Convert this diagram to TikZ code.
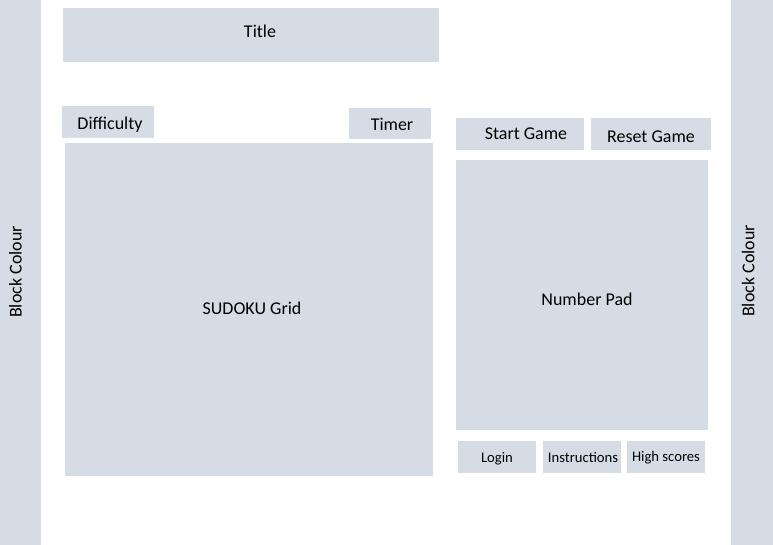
\documentclass[tikz,border=0pt]{standalone}
\usepackage{fontspec}
\setmainfont{Carlito}
\definecolor{blockfill}{HTML}{D6DCE5}
\tikzset{
  blockbox/.style={fill=blockfill, draw=none},
  lbl/.style={anchor=base, inner sep=0pt, font=\fontsize{13.5}{15}\selectfont, text=black},
  smalllbl/.style={anchor=base, inner sep=0pt, font=\fontsize{11}{13}\selectfont, text=black},
  sidelbl/.style={anchor=base, inner sep=0pt, rotate=90, font=\fontsize{13.5}{15}\selectfont, text=black}
}
\begin{document}
\begin{tikzpicture}[x=0.75pt, y=-0.75pt]
\useasboundingbox (0,0) rectangle (773,545);
% side bars
\path[blockbox] (0,0) rectangle (41,545);
\path[blockbox] (731,0) rectangle (773,545);
% boxes
\path[blockbox] (63,8) rectangle (439,62);
\path[blockbox] (62,106) rectangle (154,138);
\path[blockbox] (349,108) rectangle (431,139);
\path[blockbox] (65,143) rectangle (433,476);
\path[blockbox] (456,118) rectangle (584,150);
\path[blockbox] (591,118) rectangle (711,150);
\path[blockbox] (456,160) rectangle (708,430);
\path[blockbox] (458,441) rectangle (536,473);
\path[blockbox] (543,441) rectangle (621,473);
\path[blockbox] (627,441) rectangle (705,473);
% labels
\node[sidelbl] (leftbar) at (21.7,272) {Block Colour};
\node[sidelbl] (rightbar) at (754.3,271) {Block Colour};
\node[lbl] (title) at (260,37.7) {Title};
\node[lbl] (difficulty) at (110,129.3) {Difficulty};
\node[lbl] (timer) at (392,131) {Timer};
\node[lbl] (grid) at (252,314.3) {SUDOKU Grid};
\node[lbl] (start) at (526,139.3) {Start Game};
\node[lbl] (reset) at (651,142.7) {Reset Game};
\node[lbl] (pad) at (587,305.5) {Number Pad};
\node[smalllbl] (login) at (497,462.3) {Login};
\node[smalllbl] (instr) at (583,462) {Instructions};
\node[smalllbl] (high) at (666,461.7) {High scores};
\end{tikzpicture}
\end{document}
